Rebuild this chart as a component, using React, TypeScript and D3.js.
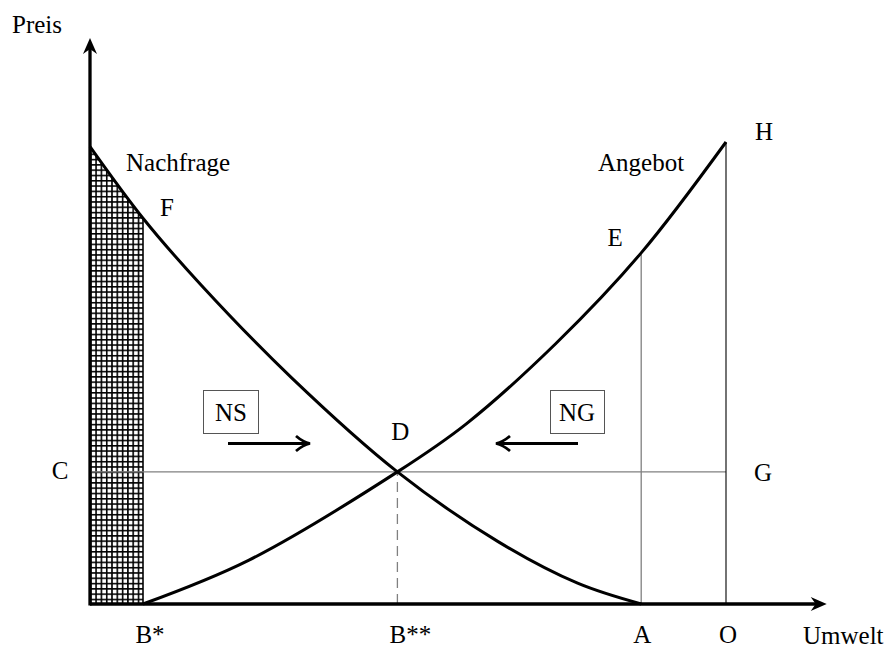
import * as d3 from "d3";

// Umwelt (x) and Preis (y) in chart units
const demandX = [0, 10, 21, 38, 58, 77, 92, 104];
const demandY = [99, 83.5, 69, 49, 28.6, 13.5, 4.5, 0];
const supplyX = [10, 30, 58, 71, 88, 104, 120];
const supplyY = [0, 9.5, 28.6, 39, 56.5, 76, 100];

const xMarks = ["B*", "B**", "A", "O"];
const xMarkValues = [10, 58, 104, 120];
const priceLevels = [28.6, 76, 100]; // D/C/G, E, H
const axisMax = [139, 122.5];

const width = 892;
const height = 650;
const font = "'Liberation Serif', 'Times New Roman', serif";

function arrowHead(tx: number, ty: number, angle: number) {
  const pts = [
    [0, 0],
    [-16, -7],
    [-11, 0],
    [-16, 7],
  ].map(([px, py]) => {
    const c = Math.cos(angle);
    const s = Math.sin(angle);
    return [tx + px * c - py * s, ty + px * s + py * c];
  });
  return "M" + pts.map((p) => p.join(",")).join("L") + "Z";
}

export default function App() {
  const x = d3.scaleLinear().domain([0, 120]).range([90, 726]);
  const y = d3.scaleLinear().domain([0, 100]).range([604, 142]);

  const demand = demandX.map((v, i) => [v, demandY[i]] as [number, number]);
  const supply = supplyX.map((v, i) => [v, supplyY[i]] as [number, number]);

  const curve = d3.curveCatmullRom.alpha(0.5);

  const line = d3
    .line<[number, number]>()
    .x((d) => x(d[0]))
    .y((d) => y(d[1]))
    .curve(curve);

  const area = d3
    .area<[number, number]>()
    .x((d) => x(d[0]))
    .y0(y(0))
    .y1((d) => y(d[1]))
    .curve(curve);

  const [bStar, bStar2, aVal, oVal] = xMarkValues;
  const [pD, pE, pH] = priceLevels;
  const x0 = x(0);
  const yBase = y(0);
  const cell = (x(bStar) - x0) / 10;

  const txt = { fontFamily: font, fontSize: 25, fill: "#000" };

  return (
    <svg
      width={width}
      height={height}
      style={{ position: "absolute", left: 0, top: 0, background: "#fff" }}
    >
      <defs>
        <pattern
          id="grid"
          patternUnits="userSpaceOnUse"
          x={x0}
          y={yBase}
          width={cell}
          height={cell}
        >
          <rect width={cell} height={cell} fill="#fff" />
          <path
            d={`M0,0.8H${cell}M0.8,0V${cell}`}
            stroke="#000"
            strokeWidth={1.6}
          />
        </pattern>
        <clipPath id="hatchClip">
          <rect x={x0} y={0} width={x(bStar) - x0} height={yBase} />
        </clipPath>
      </defs>

      {/* hatched area under demand curve up to B* */}
      <path d={area(demand) ?? ""} fill="url(#grid)" clipPath="url(#hatchClip)" />
      <line
        x1={x(bStar)}
        x2={x(bStar)}
        y1={yBase}
        y2={y(demandY[1])}
        stroke="#000"
        strokeWidth={1.6}
      />

      {/* thin reference lines */}
      <line x1={x0} x2={x(oVal)} y1={y(pD)} y2={y(pD)} stroke="#808080" strokeWidth={1.3} />
      <line x1={x(aVal)} x2={x(aVal)} y1={yBase} y2={y(pE)} stroke="#808080" strokeWidth={1.3} />
      <line x1={x(oVal)} x2={x(oVal)} y1={yBase} y2={y(pH)} stroke="#000" strokeWidth={1.1} />
      <line
        x1={x(bStar2)}
        x2={x(bStar2)}
        y1={yBase}
        y2={y(pD)}
        stroke="#808080"
        strokeWidth={1.3}
        strokeDasharray="10,6"
      />

      {/* curves */}
      <path d={line(demand) ?? ""} fill="none" stroke="#000" strokeWidth={3} />
      <path d={line(supply) ?? ""} fill="none" stroke="#000" strokeWidth={3} />

      {/* axes */}
      <line x1={x0} x2={x(axisMax[0]) - 8} y1={yBase} y2={yBase} stroke="#000" strokeWidth={3.3} />
      <path d={arrowHead(x(axisMax[0]), yBase, 0)} fill="#000" />
      <line x1={x0} x2={x0} y1={yBase + 1.5} y2={y(axisMax[1]) + 8} stroke="#000" strokeWidth={3.3} />
      <path d={arrowHead(x0, y(axisMax[1]), -Math.PI / 2)} fill="#000" />

      {/* NS / NG boxes and arrows */}
      <rect x={203.5} y={390.5} width={55} height={43} fill="none" stroke="#555" strokeWidth={1} />
      <text {...txt} x={231} y={421} textAnchor="middle">NS</text>
      <rect x={550.5} y={390.5} width={54} height={43} fill="none" stroke="#555" strokeWidth={1} />
      <text {...txt} x={577} y={421} textAnchor="middle">NG</text>
      <g stroke="#000" strokeWidth={2.8} fill="none" strokeLinecap="butt">
        <path d="M228,443.5H309" />
        <path d="M296,436Q303,442 310,443.5Q303,445 296,451" />
        <path d="M578,443.5H497" />
        <path d="M510,436Q503,442 496,443.5Q503,445 510,451" />
      </g>

      {/* labels */}
      <text {...txt} x={12} y={33}>Preis</text>
      <text {...txt} x={803} y={644}>Umwelt</text>
      <text {...txt} x={126} y={171}>Nachfrage</text>
      <text {...txt} x={598} y={171}>Angebot</text>
      {xMarks.map((m, i) => (
        <text
          key={m}
          {...txt}
          x={x(xMarkValues[i]) + [7, 13, 1, 2][i]}
          y={643}
          textAnchor="middle"
        >
          {m}
        </text>
      ))}
      <text {...txt} x={60} y={y(pD) + 7} textAnchor="middle">C</text>
      <text {...txt} x={763} y={y(pD) + 9} textAnchor="middle">G</text>
      <text {...txt} x={x(bStar2) + 3} y={440} textAnchor="middle">D</text>
      <text {...txt} x={x(aVal) - 26} y={246} textAnchor="middle">E</text>
      <text {...txt} x={167} y={216} textAnchor="middle">F</text>
      <text {...txt} x={764} y={140} textAnchor="middle">H</text>
    </svg>
  );
}
